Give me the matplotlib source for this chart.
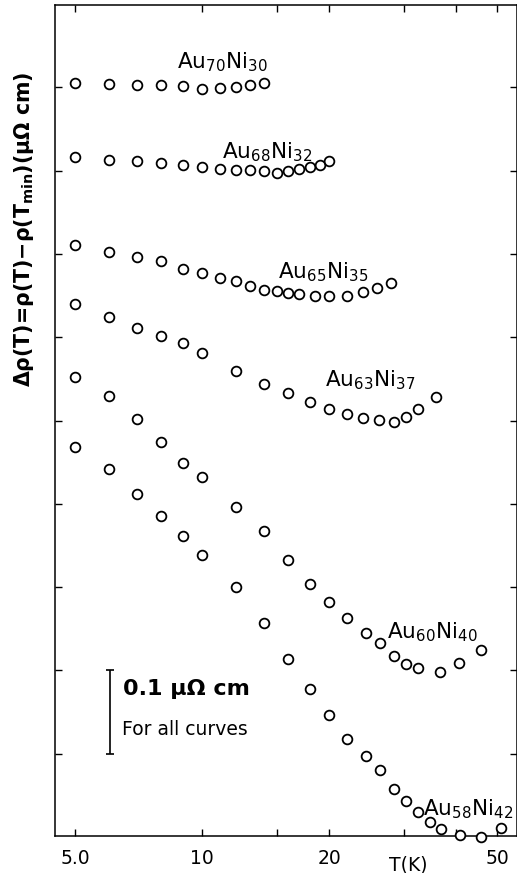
import matplotlib
matplotlib.use("Agg")
import matplotlib.pyplot as plt
import matplotlib.transforms as mtransforms
import numpy as np

plt.rcParams['font.family'] = ['DejaVu Sans']
plt.rcParams['mathtext.default'] = 'regular'

# ---- data (Delta rho in micro-ohm cm, offset per curve) ----
T_70 = [5, 6, 7, 8, 9, 10, 11, 12, 13, 14]
d_70 = [0.0076, 0.0060, 0.0052, 0.0048, 0.0032, 0.0, 0.0008, 0.0028, 0.0044, 0.0068]
off_70 = 0.898

T_68 = [5, 6, 7, 8, 9, 10, 11, 12, 13, 14, 15, 16, 17, 18, 19, 20]
d_68 = [0.0192, 0.0160, 0.0144, 0.0120, 0.0100, 0.0068, 0.0048, 0.0040,
        0.0032, 0.0020, 0.0, 0.0028, 0.0052, 0.0068, 0.0096, 0.0144]
off_68 = 0.797

T_65 = [5, 6, 7, 8, 9, 10, 11, 12, 13, 14, 15, 16, 17, 18.5, 20, 22, 24, 26, 28]
d_65 = [0.0612, 0.0524, 0.0472, 0.0420, 0.0324, 0.0272, 0.0220, 0.0176, 0.0120,
        0.0076, 0.0060, 0.0040, 0.0028, 0.0004, 0.0, 0.0, 0.0048, 0.0096, 0.0152]
off_65 = 0.6495

T_63 = [5, 6, 7, 8, 9, 10, 12, 14, 16, 18, 20, 22, 24, 26.3, 28.4, 30.4, 32.4, 35.8]
d_63 = [0.1409, 0.1260, 0.1128, 0.1032, 0.0941, 0.0821, 0.0608, 0.0452, 0.0348,
        0.0240, 0.0156, 0.0092, 0.0048, 0.0020, 0.0, 0.0060, 0.0152, 0.0300]
off_63 = 0.4986

T_60 = [5, 6, 7, 8, 9, 10, 12, 14, 16, 18, 20, 22, 24.4, 26.4, 28.4, 30.4, 32.4,
        36.5, 40.7, 45.7]
d_60 = [0.3541, 0.3310, 0.3034, 0.2752, 0.2509, 0.2337, 0.1977, 0.1689, 0.1341,
        0.1053, 0.0837, 0.0645, 0.0468, 0.0348, 0.0194, 0.0092, 0.0041, 0.0,
        0.0108, 0.0257]
off_60 = 0.1984

T_58 = [5, 6, 7, 8, 9, 10, 12, 14, 16, 18, 20, 22, 24.4, 26.4, 28.5, 30.4, 32.5,
        34.7, 36.8, 40.9, 45.7, 51]
d_58 = [0.4682, 0.4421, 0.4121, 0.3854, 0.3617, 0.3389, 0.3001, 0.2564, 0.2137,
        0.1780, 0.1468, 0.1180, 0.0976, 0.0800, 0.0576, 0.0427, 0.0295, 0.0180,
        0.0100, 0.0028, 0.0, 0.0108]
off_58 = 0.0

labels = [r"Au$_{70}$Ni$_{30}$", r"Au$_{68}$Ni$_{32}$", r"Au$_{65}$Ni$_{35}$",
          r"Au$_{63}$Ni$_{37}$", r"Au$_{60}$Ni$_{40}$", r"Au$_{58}$Ni$_{42}$"]
label_T = [8.72, 11.14, 15.13, 19.55, 27.4, 33.4]
label_y = [0.923, 0.815, 0.671, 0.5406, 0.2385, 0.0256]

xticks = [5, 10, 15, 20, 30, 40, 50]
xticklabels = ["5.0", "10", "", "20", "", "", "50"]
yticks = [0.1, 0.2, 0.3, 0.4, 0.5, 0.6, 0.7, 0.8, 0.9]

series = [(T_70, d_70, off_70), (T_68, d_68, off_68), (T_65, d_65, off_65),
          (T_63, d_63, off_63), (T_60, d_60, off_60), (T_58, d_58, off_58)]

# ---- figure ----
W, H = 517, 873
fig = plt.figure(figsize=(W / 100, H / 100), dpi=100)
ax = fig.add_axes([55 / W, 37 / H, 462 / W, 831 / H])
ax.set_xscale('log')
ax.set_xlim(4.48, 55.7)
ax.set_ylim(0.0012, 0.9988)

for T, d, off in series:
    ax.plot(T, np.array(d) + off, linestyle='none', marker='o', markersize=7.0,
            markerfacecolor='white', markeredgecolor='black', markeredgewidth=1.3,
            clip_on=False, zorder=3)

for lab, tx, ty in zip(labels, label_T, label_y):
    ax.text(tx, ty, lab, fontsize=15.5, ha='left', va='baseline', zorder=4)

ax.set_xticks(xticks)
ax.set_xticklabels(xticklabels)
ax.xaxis.set_minor_locator(matplotlib.ticker.NullLocator())
ax.set_yticks(yticks)
ax.set_yticklabels([])
ax.tick_params(direction='in', length=5, width=1.0, top=True, right=True,
               labelsize=13.5, pad=9)
for s in ax.spines.values():
    s.set_linewidth(1.1)

# scale bar
ax.errorbar([6.05], [0.15], yerr=[0.05], color='black', capsize=2.6,
            elinewidth=1.2, capthick=1.2, fmt='none')
ax.text(0.147, 0.177, "0.1 μΩ cm", transform=ax.transAxes, fontsize=16,
        fontweight='bold', ha='left', va='center')
ax.text(0.145, 0.1276, "For all curves", transform=ax.transAxes, fontsize=13.5,
        ha='left', va='center')

# axis labels
trans = mtransforms.blended_transform_factory(ax.transData, fig.transFigure)
ax.text(30.8, (H - 865) / H, "T(K)", transform=trans, fontsize=13.5,
        ha='center', va='center')
fig.text(24 / W, 1 - 229 / H, r"Δρ(T)=ρ(T)−ρ(T$_{min}$)(μΩ cm)", rotation=90,
         fontsize=14.8, fontweight='bold', ha='center', va='center')

fig.savefig("out.png", dpi=100)
